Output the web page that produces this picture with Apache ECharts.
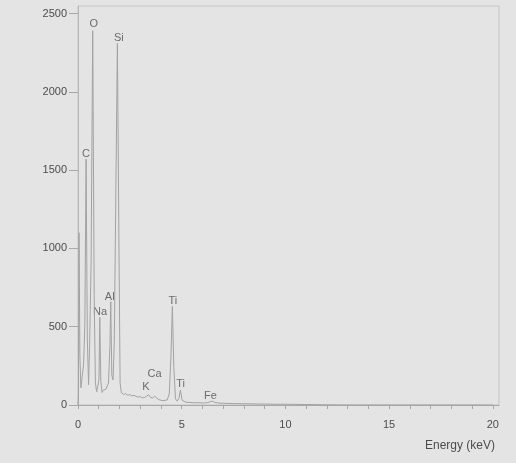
<!DOCTYPE html>
<html>
<head>
<meta charset="utf-8">
<script src="https://cdn.jsdelivr.net/npm/echarts@6/dist/echarts.min.js"></script>
<style>
html,body{margin:0;padding:0;background:#e4e4e4;}
#chart{width:516px;height:463px;}
</style>
</head>
<body>
<div id="chart"></div>
<script>
// Spectrum: energy (keV) and counts
const energyKeV = [0.00,0.02,0.05,0.09,0.14,0.20,0.27,0.33,0.39,0.45,0.51,0.56,0.63,0.71,0.78,0.84,0.90,0.96,1.01,1.05,1.10,1.16,1.22,1.28,1.34,1.40,1.47,1.54,1.58,1.63,1.69,1.75,1.82,1.90,1.97,2.03,2.09,2.2,2.3,2.4,2.5,2.6,2.7,2.8,2.9,3.0,3.1,3.2,3.3,3.4,3.5,3.6,3.7,3.8,3.9,4.0,4.1,4.2,4.3,4.4,4.48,4.55,4.62,4.70,4.78,4.86,4.94,5.02,5.1,5.2,5.4,5.6,5.8,6.0,6.2,6.4,6.5,6.6,6.8,7.0,7.5,8.0,8.5,9.0,9.5,10.0,10.5,11.0,12.0,13.0,20.0];
const counts    = [0,60,1100,320,110,180,260,520,1570,420,130,380,900,2390,700,140,85,95,160,560,150,80,95,85,100,90,140,380,660,190,160,400,1300,2310,1100,140,78,68,72,62,66,58,62,55,50,54,46,48,55,66,48,45,56,44,34,30,28,30,32,70,300,630,240,40,25,40,95,30,20,18,16,14,15,13,14,22,24,16,12,11,9,8,7,6,5,5,4,3,1,0,0];

// Peak annotations (element name, energy, counts position of the label)
const peakNames  = ['O','Si','C','Na','Al','Ti','Ca','K','Ti','Fe'];
const peakEnergy = [0.76,1.97,0.39,1.06,1.53,4.57,3.69,3.28,4.95,6.39];
const peakCounts = [2433,2347,1602,596,692,667,196,117,134,59];

// Axis ticks
const xTicks = [0,1,2,3,4,5,6,7,8,9,10,11,12,13,14,15,16,17,18,19,20];
const xLabels = [0,5,10,15,20];
const yTicks = [0,500,1000,1500,2000,2500];

const chart = echarts.init(document.getElementById('chart'), null, {renderer:'canvas'});
const font = 'Liberation Sans, Arial, sans-serif';
const txt = '#4d4d4d';

chart.setOption({
  backgroundColor: '#e4e4e4',
  animation: false,
  title: {
    text: 'Energy (keV)',
    right: 16, top: 435,
    textStyle: {fontFamily: font, fontSize: 12, fontWeight: 'normal', color: txt}
  },
  grid: {
    left: 78, right: 17, top: 6, bottom: 58,
    show: true, borderColor: '#c4c4c4', borderWidth: 1, backgroundColor: 'transparent'
  },
  xAxis: {
    type: 'value', min: 0, max: 20.3,
    axisLine: {show: true, lineStyle: {color: '#a8a8a8', width: 1}},
    axisTick: {show: true, customValues: xTicks, length: 4, lineStyle: {color: '#a8a8a8'}},
    axisLabel: {customValues: xLabels, margin: 14, fontFamily: font, fontSize: 11, color: txt,
                formatter: v => String(v)},
    splitLine: {show: false}
  },
  yAxis: {
    type: 'value', min: 0, max: 2548,
    axisLine: {show: true, lineStyle: {color: '#b8b8b8', width: 1}},
    axisTick: {show: true, customValues: yTicks, length: 9, lineStyle: {color: '#a8a8a8'}},
    axisLabel: {customValues: yTicks, margin: 11, fontFamily: font, fontSize: 11, color: txt,
                formatter: v => String(v)},
    splitLine: {show: false}
  },
  series: [
    {
      type: 'line',
      data: energyKeV.map((e, i) => [e, counts[i]]),
      showSymbol: false,
      lineStyle: {color: '#a2a2a2', width: 1},
      silent: true
    },
    {
      type: 'scatter',
      data: peakNames.map((n, i) => ({value: [peakEnergy[i], peakCounts[i]], name: n})),
      symbolSize: 0,
      label: {show: true, position: 'inside', formatter: p => p.name,
              fontFamily: font, fontSize: 11, color: txt},
      silent: true
    }
  ]
});
</script>
</body>
</html>
